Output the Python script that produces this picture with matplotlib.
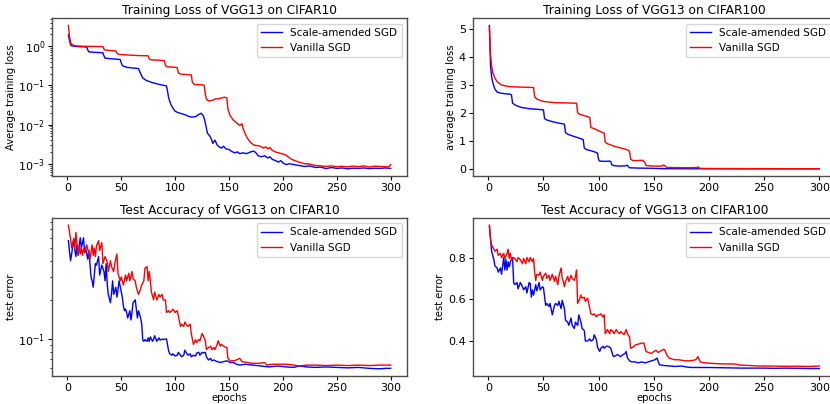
import matplotlib
matplotlib.use("Agg")
import matplotlib.pyplot as plt
from matplotlib.ticker import NullFormatter

# --- Training loss, CIFAR10 (log scale) ---
tl10_sa_ep = [1, 2, 3, 4, 6, 10, 15, 18, 19, 20, 25, 30, 33, 34, 35, 40, 45, 49, 50, 51, 55, 60, 66, 68, 70,
              73, 78, 83, 88, 92, 93, 94, 96, 98, 100, 103, 106, 110, 113, 116, 119, 122, 124, 126, 127, 128,
              130, 132, 134, 135, 137, 139, 141, 143, 145, 147, 150, 152, 155, 158, 160, 163, 166, 170, 173,
              175, 177, 180, 183, 186, 188, 190, 193, 196, 198, 200, 203, 206, 210, 215, 220, 225, 230, 235,
              240, 245, 250, 255, 260, 265, 270, 275, 280, 285, 290, 295, 300]
tl10_sa = [1.95, 1.4, 1.1, 1.03, 1.0, 0.98, 0.97, 0.95, 0.80, 0.72, 0.70, 0.69, 0.68, 0.57, 0.50, 0.48, 0.47,
           0.46, 0.38, 0.32, 0.29, 0.28, 0.27, 0.2, 0.155, 0.135, 0.12, 0.11, 0.102, 0.097, 0.07, 0.048, 0.033,
           0.026, 0.022, 0.02, 0.019, 0.0175, 0.016, 0.0155, 0.016, 0.018, 0.0195, 0.017, 0.0145, 0.011, 0.006,
           0.0052, 0.004, 0.0033, 0.0040, 0.0030, 0.0027, 0.0025, 0.0028, 0.0024, 0.0023, 0.0021, 0.0019, 0.002,
           0.0018, 0.0019, 0.0018, 0.0020, 0.0021, 0.0019, 0.0016, 0.0015, 0.0016, 0.0014, 0.0015, 0.0013,
           0.0012, 0.0011, 0.0012, 0.00105, 0.00095, 0.001, 0.00095, 0.0009, 0.00085, 0.00088, 0.0008,
           0.00082, 0.00075, 0.0008, 0.00076, 0.00078, 0.00074, 0.00077, 0.00076, 0.00078, 0.00075, 0.00077,
           0.00076, 0.00078, 0.00076]
tl10_v_ep = [1, 2, 3, 5, 8, 15, 25, 33, 34, 35, 40, 45, 46, 48, 55, 65, 75, 76, 78, 85, 90, 91, 92, 100, 102,
             103, 105, 110, 115, 116, 118, 125, 127, 128, 129, 131, 135, 138, 140, 143, 146, 148, 149, 151, 154,
             157, 160, 162, 163, 165, 167, 170, 173, 176, 179, 182, 184, 186, 188, 190, 193, 196, 199, 202, 205,
             208, 211, 215, 220, 225, 230, 235, 240, 245, 250, 255, 260, 265, 270, 275, 280, 285, 290, 295, 298,
             300]
tl10_v = [3.4, 1.8, 1.25, 1.08, 1.02, 1.0, 0.99, 0.98, 0.85, 0.8, 0.78, 0.76, 0.66, 0.62, 0.6, 0.58, 0.57, 0.47,
          0.45, 0.44, 0.43, 0.33, 0.30, 0.29, 0.285, 0.21, 0.195, 0.19, 0.185, 0.12, 0.105, 0.104, 0.1, 0.06,
          0.045, 0.04, 0.042, 0.046, 0.045, 0.048, 0.05, 0.048, 0.025, 0.017, 0.013, 0.011, 0.0095, 0.0105,
          0.008, 0.0058, 0.0045, 0.0035, 0.003, 0.0029, 0.0028, 0.0025, 0.0027, 0.0024, 0.0026, 0.0022, 0.002,
          0.0019, 0.0018, 0.0017, 0.0015, 0.0013, 0.0012, 0.0011, 0.001, 0.00098, 0.0009, 0.00088, 0.00085,
          0.00088, 0.00084, 0.00086, 0.00083, 0.00087, 0.00084, 0.00088, 0.00082, 0.00087, 0.00085, 0.00084,
          0.00082, 0.00095]

# --- Training loss, CIFAR100 (linear) ---
tl100_sa_ep = [1, 2, 3, 4, 6, 8, 11, 15, 20, 21, 22, 25, 30, 38, 45, 50, 51, 53, 59, 65, 69, 70, 72, 77, 81,
               86, 87, 89, 93, 97, 99, 100, 101, 106, 110, 111, 112, 115, 120, 124, 126, 127, 128, 135, 145, 150,
               155, 160, 170, 200, 250, 300]
tl100_sa = [5.13, 3.7, 3.3, 3.1, 2.85, 2.75, 2.71, 2.69, 2.67, 2.65, 2.35, 2.27, 2.2, 2.15, 2.13, 2.11, 1.8,
            1.75, 1.68, 1.63, 1.6, 1.3, 1.24, 1.17, 1.12, 1.05, 0.75, 0.69, 0.65, 0.6, 0.56, 0.33, 0.28, 0.27,
            0.28, 0.26, 0.14, 0.11, 0.1, 0.11, 0.13, 0.08, 0.04, 0.03, 0.025, 0.02, 0.012, 0.008, 0.006, 0.004,
            0.003, 0.003]
tl100_v_ep = [1, 2, 3, 4, 6, 8, 12, 18, 25, 35, 41, 42, 44, 50, 60, 70, 80, 81, 83, 90, 92, 93, 96, 103, 105,
              106, 108, 115, 122, 127, 128, 129, 131, 135, 140, 142, 143, 150, 157, 159, 161, 162, 175, 188, 190,
              192, 200, 250, 300]
tl100_v = [5.05, 4.1, 3.7, 3.45, 3.25, 3.12, 3.0, 2.95, 2.93, 2.92, 2.91, 2.58, 2.5, 2.41, 2.37, 2.36, 2.35,
           2.0, 1.95, 1.87, 1.84, 1.48, 1.44, 1.31, 1.28, 0.95, 0.9, 0.8, 0.73, 0.67, 0.62, 0.35, 0.3, 0.3, 0.31,
           0.22, 0.12, 0.1, 0.1, 0.14, 0.08, 0.05, 0.045, 0.045, 0.07, 0.02, 0.015, 0.01, 0.008]

# --- Test error, CIFAR10 (log scale) ---
te10_sa_ep = [1, 2, 3, 4, 6, 7, 8, 9, 10, 11, 12, 13, 15, 16, 17, 19, 20, 21, 22, 23, 24, 25, 26, 27, 29, 30,
              32, 34, 35, 36, 37, 38, 40, 41, 42, 43, 45, 46, 47, 48, 50, 51, 52, 53, 54, 55, 56, 58, 59, 60, 61,
              63, 64, 65, 66, 68, 69, 70, 71, 72, 74, 75, 76, 77, 79, 80, 81, 83, 85, 86, 88, 89, 91, 92, 94, 95,
              97, 98, 100, 102, 103, 105, 106, 108, 109, 111, 112, 114, 115, 117, 119, 120, 122, 123, 125, 126,
              128, 129, 131, 133, 134, 136, 139, 142, 145, 148, 151, 154, 157, 160, 165, 172, 180, 187, 195, 203,
              210, 215, 222, 230, 240, 250, 260, 270, 280, 290, 295, 300]
te10_sa = [0.57, 0.47, 0.40, 0.45, 0.59, 0.48, 0.43, 0.53, 0.44, 0.52, 0.60, 0.50, 0.60, 0.46, 0.50, 0.41, 0.48,
           0.38, 0.30, 0.28, 0.25, 0.31, 0.38, 0.37, 0.43, 0.31, 0.37, 0.33, 0.28, 0.38, 0.265, 0.22, 0.19,
           0.225, 0.28, 0.22, 0.25, 0.21, 0.24, 0.28, 0.23, 0.21, 0.18, 0.165, 0.17, 0.16, 0.145, 0.165, 0.14,
           0.16, 0.19, 0.20, 0.17, 0.145, 0.165, 0.145, 0.13, 0.098, 0.096, 0.099, 0.096, 0.102, 0.096, 0.104,
           0.096, 0.099, 0.106, 0.096, 0.102, 0.098, 0.1, 0.099, 0.1, 0.1, 0.081, 0.077, 0.075, 0.077, 0.074,
           0.075, 0.079, 0.075, 0.073, 0.075, 0.082, 0.077, 0.075, 0.077, 0.073, 0.075, 0.074, 0.078, 0.079,
           0.075, 0.079, 0.078, 0.079, 0.073, 0.069, 0.071, 0.068, 0.069, 0.067, 0.066, 0.067, 0.068, 0.066,
           0.066, 0.064, 0.063, 0.064, 0.063, 0.062, 0.061, 0.062, 0.061, 0.0605, 0.062, 0.061, 0.0605, 0.061,
           0.0605, 0.060, 0.0605, 0.0595, 0.059, 0.0595, 0.0595]
te10_v_ep = [1, 2, 3, 4, 6, 7, 8, 9, 10, 11, 12, 13, 14, 15, 16, 18, 20, 21, 23, 24, 25, 26, 27, 29, 30, 32,
             33, 35, 37, 38, 40, 41, 43, 44, 46, 47, 49, 50, 52, 54, 55, 57, 58, 60, 61, 63, 64, 66, 67, 69, 71,
             72, 74, 75, 76, 77, 78, 80, 81, 83, 85, 86, 88, 89, 91, 92, 94, 95, 97, 98, 100, 102, 103, 105, 106,
             108, 109, 111, 112, 114, 115, 117, 119, 120, 122, 123, 125, 126, 128, 129, 131, 133, 134, 136, 137,
             139, 140, 142, 143, 145, 146, 148, 149, 151, 155, 160, 162, 167, 172, 178, 183, 185, 190, 197, 203,
             210, 215, 222, 230, 240, 250, 260, 270, 280, 290, 300]
te10_v = [0.75, 0.66, 0.59, 0.50, 0.59, 0.50, 0.66, 0.53, 0.45, 0.52, 0.45, 0.50, 0.44, 0.49, 0.47, 0.53, 0.45,
          0.41, 0.53, 0.44, 0.50, 0.43, 0.52, 0.57, 0.48, 0.55, 0.38, 0.43, 0.39, 0.33, 0.40, 0.36, 0.33, 0.38,
          0.45, 0.32, 0.28, 0.30, 0.26, 0.31, 0.28, 0.32, 0.28, 0.33, 0.29, 0.28, 0.25, 0.22, 0.23, 0.26, 0.28,
          0.35, 0.36, 0.28, 0.33, 0.28, 0.23, 0.20, 0.23, 0.20, 0.22, 0.21, 0.22, 0.20, 0.20, 0.16, 0.165, 0.16,
          0.165, 0.17, 0.16, 0.165, 0.15, 0.125, 0.13, 0.125, 0.135, 0.127, 0.125, 0.13, 0.11, 0.091, 0.099,
          0.094, 0.099, 0.097, 0.11, 0.107, 0.097, 0.083, 0.086, 0.088, 0.083, 0.086, 0.083, 0.091, 0.097,
          0.088, 0.091, 0.088, 0.087, 0.086, 0.071, 0.068, 0.068, 0.071, 0.067, 0.066, 0.065, 0.065, 0.066,
          0.063, 0.064, 0.064, 0.064, 0.063, 0.062, 0.063, 0.063, 0.0625, 0.063, 0.0625, 0.063, 0.0625, 0.063,
          0.063]

# --- Test error, CIFAR100 (linear) ---
te100_sa_ep = [1, 2, 3, 5, 6, 8, 9, 11, 12, 13, 14, 15, 16, 17, 18, 19, 20, 21, 22, 23, 24, 26, 27, 29, 31,
               32, 34, 35, 37, 38, 39, 40, 41, 43, 44, 46, 47, 49, 50, 52, 53, 55, 56, 58, 60, 61, 63, 64, 66, 67,
               69, 70, 72, 73, 75, 76, 78, 79, 81, 82, 84, 85, 87, 88, 90, 92, 93, 95, 96, 98, 99, 101, 102, 104,
               105, 107, 108, 110, 111, 113, 114, 117, 120, 122, 124, 125, 126, 128, 130, 133, 136, 139, 142, 145,
               148, 151, 153, 155, 160, 165, 169, 175, 180, 184, 190, 199, 210, 220, 229, 240, 250, 260, 270, 280,
               290, 300]
te100_sa = [0.95, 0.89, 0.83, 0.79, 0.76, 0.75, 0.73, 0.75, 0.72, 0.76, 0.80, 0.74, 0.79, 0.74, 0.78, 0.755,
            0.78, 0.79, 0.80, 0.68, 0.67, 0.68, 0.65, 0.68, 0.66, 0.645, 0.66, 0.63, 0.68, 0.675, 0.61, 0.645,
            0.62, 0.67, 0.64, 0.68, 0.645, 0.66, 0.655, 0.57, 0.58, 0.565, 0.58, 0.525, 0.57, 0.58, 0.57, 0.59,
            0.555, 0.595, 0.555, 0.50, 0.49, 0.475, 0.51, 0.475, 0.46, 0.49, 0.475, 0.525, 0.49, 0.46, 0.45, 0.40,
            0.40, 0.41, 0.40, 0.405, 0.43, 0.405, 0.37, 0.35, 0.365, 0.375, 0.365, 0.375, 0.375, 0.37, 0.365,
            0.33, 0.325, 0.335, 0.325, 0.335, 0.34, 0.35, 0.32, 0.305, 0.30, 0.30, 0.295, 0.30, 0.295, 0.30,
            0.305, 0.31, 0.318, 0.286, 0.282, 0.28, 0.278, 0.28, 0.275, 0.273, 0.273, 0.273, 0.272, 0.271, 0.27,
            0.27, 0.27, 0.269, 0.27, 0.269, 0.268, 0.268]
te100_v_ep = [1, 2, 3, 5, 6, 8, 9, 11, 12, 14, 15, 17, 18, 19, 20, 21, 23, 24, 26, 27, 29, 31, 32, 34, 35, 37,
              38, 40, 41, 42, 43, 44, 46, 47, 49, 50, 52, 53, 55, 56, 58, 60, 61, 63, 64, 66, 67, 68, 69, 70, 72,
              73, 75, 76, 78, 79, 80, 81, 83, 84, 85, 87, 88, 90, 91, 93, 95, 96, 98, 99, 101, 102, 104, 105, 106,
              107, 108, 110, 111, 113, 114, 116, 117, 119, 120, 122, 123, 125, 126, 128, 129, 131, 133, 136, 139,
              141, 143, 145, 148, 150, 152, 154, 157, 159, 160, 162, 164, 169, 173, 178, 183, 188, 190, 192, 195,
              199, 205, 214, 220, 223, 229, 235, 245, 255, 265, 280, 290, 300]
te100_v = [0.955, 0.89, 0.86, 0.84, 0.83, 0.84, 0.81, 0.82, 0.80, 0.82, 0.795, 0.82, 0.84, 0.795, 0.82, 0.79,
           0.80, 0.795, 0.78, 0.80, 0.79, 0.77, 0.795, 0.77, 0.80, 0.78, 0.80, 0.78, 0.795, 0.73, 0.69, 0.72,
           0.715, 0.73, 0.69, 0.71, 0.725, 0.70, 0.715, 0.69, 0.72, 0.685, 0.71, 0.67, 0.71, 0.75, 0.70, 0.685,
           0.66, 0.685, 0.71, 0.685, 0.715, 0.70, 0.69, 0.71, 0.74, 0.58, 0.605, 0.62, 0.605, 0.61, 0.59, 0.605,
           0.58, 0.53, 0.525, 0.53, 0.515, 0.525, 0.525, 0.53, 0.515, 0.525, 0.435, 0.445, 0.455, 0.435, 0.455,
           0.445, 0.435, 0.455, 0.445, 0.435, 0.445, 0.435, 0.43, 0.455, 0.435, 0.42, 0.365, 0.37, 0.38, 0.385,
           0.39, 0.39, 0.35, 0.345, 0.34, 0.35, 0.355, 0.345, 0.355, 0.36, 0.357, 0.33, 0.318, 0.31, 0.31, 0.305,
           0.305, 0.31, 0.325, 0.30, 0.296, 0.294, 0.292, 0.29, 0.29, 0.29, 0.284, 0.283, 0.28, 0.28, 0.279,
           0.279, 0.278, 0.28]

LABELS = ["Scale-amended SGD", "Vanilla SGD"]
XTICKS = [0, 50, 100, 150, 200, 250, 300]

W, H = 830, 404
fig = plt.figure(figsize=(W / 100, H / 100), dpi=100)


def px_axes(left, top, right, bottom):
    # axes box given in pixels from the top-left corner; right panels run past the edge
    return fig.add_axes([left / W, 1 - bottom / H, (right - left) / W, (bottom - top) / H])


panels = [
    (px_axes(52.3, 18.3, 406.8, 176), tl10_sa_ep, tl10_sa, tl10_v_ep, tl10_v,
     "Training Loss of VGG13 on CIFAR10", "Average training loss", True, None),
    (px_axes(472.9, 18.3, 835.8, 176), tl100_sa_ep, tl100_sa, tl100_v_ep, tl100_v,
     "Training Loss of VGG13 on CIFAR100", "average training loss", False, [0, 1, 2, 3, 4, 5]),
    (px_axes(52.3, 218, 406.8, 376), te10_sa_ep, te10_sa, te10_v_ep, te10_v,
     "Test Accuracy of VGG13 on CIFAR10", "test error", True, None),
    (px_axes(472.9, 218, 835.8, 375.7), te100_sa_ep, te100_sa, te100_v_ep, te100_v,
     "Test Accuracy of VGG13 on CIFAR100", "test error", False, [0.4, 0.6, 0.8]),
]

for i, (ax, xa, ya, xv, yv, title, ylab, logy, yt) in enumerate(panels):
    ax.plot(xa, ya, color="blue", lw=1.0, label=LABELS[0])
    ax.plot(xv, yv, color="red", lw=1.0, label=LABELS[1])
    if logy:
        ax.set_yscale("log")
        ax.yaxis.set_minor_formatter(NullFormatter())
    else:
        ax.set_yticks(yt)
    ax.set_xticks(XTICKS)
    ax.set_title(title, fontsize=8.8, pad=3)
    ax.set_ylabel(ylab, fontsize=7.2, labelpad=2)
    if i >= 2:
        ax.set_xlabel("epochs", fontsize=7.3, labelpad=0)
    ax.tick_params(labelsize=8, length=3, pad=2)
    ax.tick_params(which="minor", length=1.8)
    for s in ax.spines.values():
        s.set_color("0.3")
        s.set_linewidth(1.0)
    ax.legend(loc="upper right", fontsize=7.5)

fig.savefig("out.png", dpi=100)
